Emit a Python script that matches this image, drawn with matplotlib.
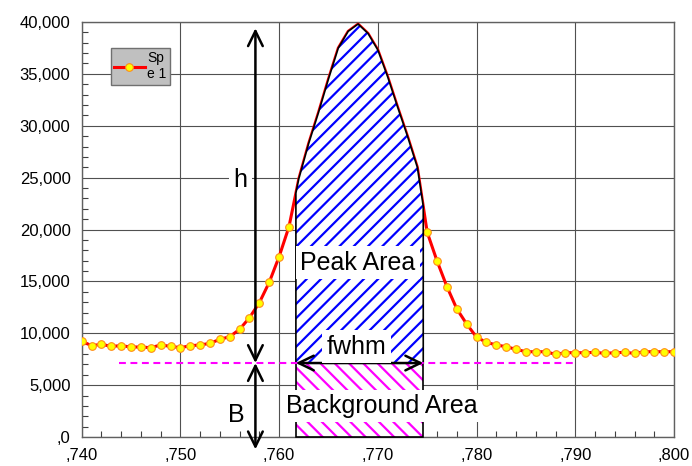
import matplotlib
matplotlib.use('Agg')
import matplotlib.pyplot as plt
import numpy as np
from matplotlib.backend_bases import GraphicsContextBase
from matplotlib.patches import Polygon, Rectangle

#data
X = [
    0.740, 0.741, 0.742, 0.743, 0.744, 0.745, 0.746, 0.747, 0.748, 0.749,
    0.750, 0.751, 0.752, 0.753, 0.754, 0.755, 0.756, 0.757, 0.758, 0.759,
    0.760, 0.761, 0.762, 0.763, 0.764, 0.765, 0.766, 0.767, 0.768, 0.769,
    0.770, 0.771, 0.772, 0.773, 0.774, 0.775, 0.776, 0.777, 0.778, 0.779,
    0.780, 0.781, 0.782, 0.783, 0.784, 0.785, 0.786, 0.787, 0.788, 0.789,
    0.790, 0.791, 0.792, 0.793, 0.794, 0.795, 0.796, 0.797, 0.798, 0.799,
    0.800
]
Y = [
    9250, 8800, 8935, 8740, 8800, 8675, 8675, 8610, 8870, 8740,
    8610, 8800, 8870, 9030, 9415, 9670, 10380, 11500, 12950, 14910,
    17380, 20270, 24900, 28300, 31300, 34500, 37500, 39100, 39800, 38900,
    37300, 34700, 31800, 29000, 26000, 19730, 16960, 14490, 12350, 10890,
    9620, 9125, 8870, 8705, 8450, 8220, 8220, 8220, 7970, 8125,
    8125, 8125, 8160, 8065, 8125, 8160, 8065, 8220, 8220, 8220,
    8220
]
XTICKS = [0.740, 0.750, 0.760, 0.770, 0.780, 0.790, 0.800]
XTICK_LABELS = [',740', ',750', ',760', ',770', ',780', ',790', ',800']
YTICKS = [0, 5000, 10000, 15000, 20000, 25000, 30000, 35000, 40000]
YTICK_LABELS = [',0', '5,000', '10,000', '15,000', '20,000', '25,000',
                '30,000', '35,000', '40,000']

#annotation geometry
PEAK_LEFT = 0.7617
PEAK_RIGHT = 0.7746
BACKGROUND = 7130
BG_LINE = (0.7438, 0.790)
H_X = 0.7576
H_TOP = 39400
B_BOTTOM = -1190

plt.rcParams['font.family'] = ['Liberation Sans', 'DejaVu Sans']
plt.rcParams['hatch.linewidth'] = 1.6

#a bit wider hatch spacing than the default '//' gives
_hatch_path = GraphicsContextBase.get_hatch_path
GraphicsContextBase.get_hatch_path = lambda self, density=7.2: _hatch_path(self, density)

fig = plt.figure(figsize=(6.92, 4.66), dpi=100)
ax = fig.add_axes([0.118, 0.0622, 0.856, 0.8906])

xs = np.array(X)
ys = np.array(Y)
inside = (xs > PEAK_LEFT) & (xs < PEAK_RIGHT)

#the spectrum, markers under the polygon are hidden anyway
ax.plot(X, Y, color='#ff0000', lw=2.2, marker='o', markersize=5.5,
        markerfacecolor='#ffff00', markeredgecolor='#ff8c1a',
        markeredgewidth=0.8, markevery=list(~inside), label='Sp\ne 1',
        zorder=3)

#peak area polygon built from the data
px = [PEAK_LEFT, PEAK_LEFT] + list(xs[inside]) + [PEAK_RIGHT, PEAK_RIGHT]
py = ([BACKGROUND, np.interp(PEAK_LEFT, xs, ys)] + list(ys[inside]) +
      [np.interp(PEAK_RIGHT, xs, ys), BACKGROUND])
verts = list(zip(px, py))
ax.add_patch(Polygon(verts, closed=True, facecolor='white', edgecolor='#0000ff',
                     hatch='//', lw=0, zorder=4))
ax.add_patch(Polygon(verts, closed=True, fill=False, edgecolor='black',
                     lw=1.2, zorder=4.1))

#background area
ax.add_patch(Rectangle((PEAK_LEFT, 0), PEAK_RIGHT - PEAK_LEFT, BACKGROUND,
                       facecolor='white', edgecolor='#ff00ff', hatch='\\\\',
                       lw=0, zorder=4))
ax.add_patch(Rectangle((PEAK_LEFT, 0), PEAK_RIGHT - PEAK_LEFT, BACKGROUND,
                       fill=False, edgecolor='black', lw=1.2, zorder=4.1,
                       clip_on=False))

#background level
ax.plot(BG_LINE, [BACKGROUND, BACKGROUND], color='#ff00ff', lw=1.5,
        linestyle=(0, (3.3, 2.2)), zorder=5)

#arrows
arrow = dict(arrowstyle='<->,head_length=0.45,head_width=0.22', lw=1.8,
             color='black', shrinkA=0, shrinkB=0, mutation_scale=24)
ax.annotate('', xy=(H_X, H_TOP), xytext=(H_X, BACKGROUND),
            arrowprops=arrow, zorder=6)
ax.annotate('', xy=(H_X, B_BOTTOM), xytext=(H_X, BACKGROUND),
            arrowprops=arrow, annotation_clip=False, zorder=6)
ax.annotate('', xy=(PEAK_LEFT, BACKGROUND), xytext=(PEAK_RIGHT, BACKGROUND),
            arrowprops=arrow, zorder=6)

#labels with white boxes
box = dict(facecolor='white', edgecolor='none', pad=3)
ax.text(0.7680, 16800, 'Peak Area', ha='center', va='center', fontsize=18,
        bbox=box, zorder=7)
ax.text(0.76785, 8720, 'fwhm', ha='center', va='center', fontsize=18,
        bbox=box, zorder=7)
ax.text(0.77045, 3000, 'Background Area', ha='center', va='center',
        fontsize=18, bbox=box, zorder=7)
ax.text(0.7561, 24770, 'h', ha='center', va='center', fontsize=18,
        bbox=box, zorder=7)
ax.text(0.7557, 2100, 'B', ha='center', va='center', fontsize=18, zorder=7)

#axes config
ax.set_xlim(0.740, 0.800)
ax.set_ylim(0, 40000)
ax.set_xticks(XTICKS)
ax.set_xticklabels(XTICK_LABELS)
ax.set_yticks(YTICKS)
ax.set_yticklabels(YTICK_LABELS)
ax.set_xticks(np.arange(0.740, 0.8001, 0.002), minor=True)
ax.set_yticks(np.arange(0, 40001, 1000), minor=True)
ax.tick_params(which='both', direction='in', colors='#404040',
               labelcolor='black', labelsize=12, pad=8)
ax.tick_params(which='major', length=0)
ax.tick_params(which='minor', length=4, width=0.8)
ax.grid(True, which='major', color='#505050', lw=0.8, zorder=0)
ax.set_axisbelow(True)
for sp in ax.spines.values():
    sp.set_color('#606060')
    sp.set_linewidth(1)

leg = ax.legend(loc='upper left', bbox_to_anchor=(0.049, 0.938),
                borderaxespad=0, fontsize=10, fancybox=False,
                facecolor='#c0c0c0', edgecolor='#707070', framealpha=1,
                handlelength=2.2, handletextpad=0.2, borderpad=0.25)
leg.set_zorder(8)

fig.savefig('out.png', dpi=100)
